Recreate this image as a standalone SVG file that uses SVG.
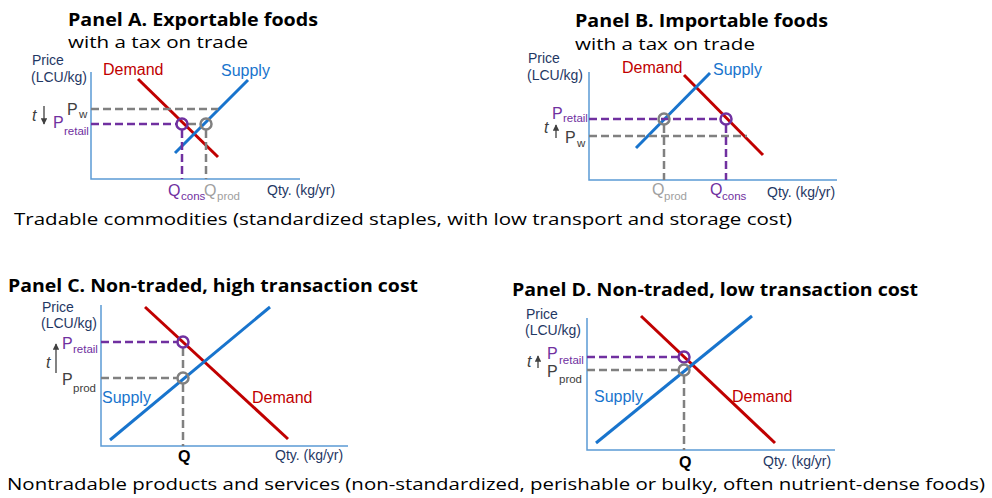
<svg xmlns="http://www.w3.org/2000/svg" width="992" height="498" viewBox="0 0 992 498">
<defs>
<style>
.title{font-family:"Open Sans","Noto Sans",sans-serif;font-weight:bold;font-size:18px;fill:#000}
.sub{font-family:"Open Sans","Noto Sans",sans-serif;font-size:17px;fill:#000}
.cap{font-family:"Open Sans","Noto Sans",sans-serif;font-size:17px;fill:#000}
.ax{font-family:"Liberation Sans",Arial,sans-serif;font-size:14px;fill:#1f3864}
.lbl{font-family:"Liberation Sans",Arial,sans-serif;font-size:16px}
.p{font-family:"Liberation Sans",Arial,sans-serif;font-size:16px}
.s{font-family:"Liberation Sans",Arial,sans-serif;font-size:11.5px}
.axis{stroke:#5b9bd5;stroke-width:1.5;fill:none}
.dem{stroke:#c00000;stroke-width:3;fill:none}
.sup{stroke:#1874cd;stroke-width:3;fill:none}
.dg{stroke:#808080;stroke-width:2.5;stroke-dasharray:8,4;fill:none}
.dp{stroke:#7030a0;stroke-width:2.5;stroke-dasharray:8,4;fill:none}
.cg{stroke:#808080;stroke-width:2.5;fill:none}
.cp{stroke:#7030a0;stroke-width:2.5;fill:none}
.arr{stroke:#404040;stroke-width:1.3;fill:none}
</style>
<marker id="ah" viewBox="0 0 10 10" refX="9" refY="5" markerWidth="5" markerHeight="5" orient="auto"><path d="M0,0 L10,5 L0,10 z" fill="#404040"/></marker>
</defs>

<!-- Panel A -->
<g id="panelA">
<text class="title" x="68" y="26" textLength="250" lengthAdjust="spacingAndGlyphs">Panel A. Exportable foods</text>
<text class="sub" x="68" y="48" textLength="180" lengthAdjust="spacingAndGlyphs">with a tax on trade</text>
<text class="ax" x="32" y="65">Price</text>
<text class="ax" x="31" y="82">(LCU/kg)</text>
<path class="axis" d="M91,72 V179 H300"/>
<text class="ax" x="267" y="195">Qty. (kg/yr)</text>
<line class="dem" x1="138" y1="79" x2="218" y2="157"/>
<line class="sup" x1="175" y1="153" x2="248" y2="80"/>
<text class="lbl" x="103" y="75" fill="#c00000">Demand</text>
<text class="lbl" x="221" y="76" fill="#1874cd">Supply</text>
<path class="dg" d="M91,109 H218"/>
<path class="dp" d="M91,124 H177"/>
<path class="dg" d="M188,124 H201"/>
<path class="dp" d="M182,130 V179"/>
<path class="dg" d="M206,130 V179"/>
<circle class="cp" cx="182" cy="124" r="5.5"/>
<circle class="cg" cx="206" cy="124" r="5.5"/>
<text class="p" x="67" y="115" fill="#404040">P</text>
<text class="s" x="79" y="118" fill="#404040">w</text>
<text class="p" x="53" y="128" fill="#7030a0">P</text>
<text class="s" x="64" y="135" fill="#7030a0">retail</text>
<text class="p" x="32" y="121" font-style="italic" fill="#404040" font-size="14">t</text>
<line class="arr" x1="44" y1="106" x2="44" y2="124" marker-end="url(#ah)"/>
<text class="p" x="168" y="196" fill="#7030a0">Q</text>
<text class="s" x="181" y="200" fill="#7030a0">cons</text>
<text class="p" x="204" y="196" fill="#a0a0a0">Q</text>
<text class="s" x="217" y="200" fill="#a0a0a0">prod</text>
</g>

<!-- Panel B -->
<g id="panelB">
<text class="title" x="575" y="27" textLength="253" lengthAdjust="spacingAndGlyphs">Panel B. Importable foods</text>
<text class="sub" x="575" y="50" textLength="180" lengthAdjust="spacingAndGlyphs">with a tax on trade</text>
<text class="ax" x="528" y="63">Price</text>
<text class="ax" x="527" y="80">(LCU/kg)</text>
<path class="axis" d="M589,72 V180 H837"/>
<text class="ax" x="767" y="197">Qty. (kg/yr)</text>
<line class="dem" x1="684" y1="75" x2="763" y2="155"/>
<line class="sup" x1="636" y1="148" x2="710" y2="73"/>
<text class="lbl" x="622" y="73" fill="#c00000">Demand</text>
<text class="lbl" x="713" y="75" fill="#1874cd">Supply</text>
<path class="dp" d="M589,119 H720"/>
<path class="dg" d="M589,136 H747"/>
<path class="dg" d="M664,125 V180"/>
<path class="dp" d="M726,125 V180"/>
<circle class="cg" cx="664" cy="119" r="5.5"/>
<circle class="cp" cx="726" cy="119" r="5.5"/>
<text class="p" x="552" y="119" fill="#7030a0">P</text>
<text class="s" x="563" y="122" fill="#7030a0">retail</text>
<text class="p" x="544" y="133" font-style="italic" fill="#404040" font-size="14">t</text>
<line class="arr" x1="556" y1="138" x2="556" y2="125" marker-end="url(#ah)"/>
<text class="p" x="565" y="143" fill="#404040">P</text>
<text class="s" x="577" y="147" fill="#404040">w</text>
<text class="p" x="652" y="195" fill="#a0a0a0">Q</text>
<text class="s" x="664" y="200" fill="#a0a0a0">prod</text>
<text class="p" x="710" y="195" fill="#7030a0">Q</text>
<text class="s" x="722" y="200" fill="#7030a0">cons</text>
</g>

<text class="cap" x="14" y="225" textLength="778" lengthAdjust="spacingAndGlyphs">Tradable commodities (standardized staples, with low transport and storage cost)</text>

<!-- Panel C -->
<g id="panelC">
<text class="title" x="8" y="292" textLength="410" lengthAdjust="spacingAndGlyphs">Panel C. Non-traded, high transaction cost</text>
<text class="ax" x="42" y="312">Price</text>
<text class="ax" x="41" y="328">(LCU/kg)</text>
<path class="axis" d="M101,305 V446 H348"/>
<text class="ax" x="275" y="460">Qty. (kg/yr)</text>
<line class="dem" x1="145" y1="307" x2="288" y2="439"/>
<line class="sup" x1="110" y1="440" x2="270" y2="307"/>
<text class="lbl" x="102" y="403" fill="#1874cd">Supply</text>
<text class="lbl" x="252" y="403" fill="#c00000">Demand</text>
<path class="dp" d="M101,342 H177"/>
<path class="dg" d="M101,378 H177"/>
<path class="dg" d="M183,348 V372"/>
<path class="dg" d="M183,384 V446"/>
<circle class="cp" cx="183" cy="342" r="5.5"/>
<circle class="cg" cx="183" cy="378" r="5.5"/>
<text class="p" x="62" y="349" fill="#7030a0">P</text>
<text class="s" x="73" y="353" fill="#7030a0">retail</text>
<text class="p" x="46" y="368" font-style="italic" fill="#404040" font-size="14">t</text>
<line class="arr" x1="56" y1="373" x2="56" y2="344" marker-end="url(#ah)"/>
<text class="p" x="62" y="385" fill="#404040">P</text>
<text class="s" x="73" y="392" fill="#404040">prod</text>
<text class="p" x="178" y="462" font-weight="bold" fill="#000">Q</text>
</g>

<!-- Panel D -->
<g id="panelD">
<text class="title" x="512" y="296" textLength="406" lengthAdjust="spacingAndGlyphs">Panel D. Non-traded, low transaction cost</text>
<text class="ax" x="526" y="319">Price</text>
<text class="ax" x="525" y="335">(LCU/kg)</text>
<path class="axis" d="M587,318 V450 H835"/>
<text class="ax" x="763" y="466">Qty. (kg/yr)</text>
<line class="dem" x1="641" y1="316" x2="775" y2="443"/>
<line class="sup" x1="596" y1="443" x2="752" y2="316"/>
<text class="lbl" x="594" y="402" fill="#1874cd">Supply</text>
<text class="lbl" x="732" y="402" fill="#c00000">Demand</text>
<path class="dp" d="M587,357 H678"/>
<path class="dg" d="M587,370 H678"/>
<path class="dg" d="M684,376 V450"/>
<circle class="cp" cx="684" cy="357" r="5.5"/>
<circle class="cg" cx="684" cy="370" r="5.5"/>
<text class="p" x="547" y="359" fill="#7030a0">P</text>
<text class="s" x="559" y="364" fill="#7030a0">retail</text>
<text class="p" x="527" y="367" font-style="italic" fill="#404040" font-size="14">t</text>
<line class="arr" x1="538" y1="368" x2="538" y2="356" marker-end="url(#ah)"/>
<text class="p" x="547" y="377" fill="#404040">P</text>
<text class="s" x="559" y="383" fill="#404040">prod</text>
<text class="p" x="679" y="468" font-weight="bold" fill="#000">Q</text>
</g>

<text class="cap" x="7" y="490" textLength="978" lengthAdjust="spacingAndGlyphs">Nontradable products and services (non-standardized, perishable or bulky, often nutrient-dense foods)</text>
</svg>
